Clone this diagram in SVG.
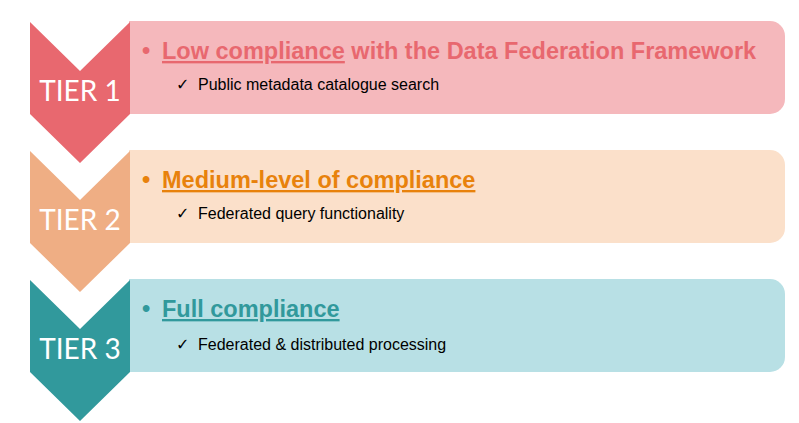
<svg xmlns="http://www.w3.org/2000/svg" width="799" height="423" viewBox="0 0 799 423">
<style>
.tier{font-family:"Lato","Open Sans",sans-serif;font-size:28px;fill:#ffffff;text-anchor:middle}
.title{font-family:"Liberation Sans",Arial,sans-serif;font-size:23.5px;font-weight:bold}
.u{text-decoration:underline}
.sub{font-family:"Liberation Sans",Arial,sans-serif;font-size:16px;fill:#000000}
.chk{font-family:"DejaVu Sans",sans-serif;font-size:16px;fill:#000000}
</style>
<rect width="799" height="423" fill="#ffffff"/>
<g id="tier1">
<path d="M129,21 H770 A15,15 0 0 1 785,36 V99 A15,15 0 0 1 770,114 H129 Z" fill="#F5B8BC"/>
<polygon points="30,22 80,71 130,22 130,114 80,163 30,114" fill="#E8686F"/>
<text class="tier" x="80" y="101">TIER 1</text>
<text class="title" x="142" y="59" fill="#E8686F">• <tspan class="u" x="162">Low compliance</tspan> with the Data Federation Framework</text>
<text class="chk" x="176" y="90">✓</text>
<text class="sub" x="198" y="90">Public metadata catalogue search</text>
</g>
<g id="tier2">
<path d="M129,150 H770 A15,15 0 0 1 785,165 V228 A15,15 0 0 1 770,243 H129 Z" fill="#FBE0CA"/>
<polygon points="30,151 80,200 130,151 130,243 80,292 30,243" fill="#EFAE84"/>
<text class="tier" x="80" y="230">TIER 2</text>
<text class="title" x="142" y="188" fill="#E8820C">• <tspan class="u" x="162">Medium-level of compliance</tspan></text>
<text class="chk" x="176" y="219">✓</text>
<text class="sub" x="198" y="219">Federated query functionality</text>
</g>
<g id="tier3">
<path d="M129,279 H770 A15,15 0 0 1 785,294 V357 A15,15 0 0 1 770,372 H129 Z" fill="#B8E0E5"/>
<polygon points="30,280 80,329 130,280 130,372 80,421 30,372" fill="#31999C"/>
<text class="tier" x="80" y="359">TIER 3</text>
<text class="title" x="142" y="317" fill="#31999C">• <tspan class="u" x="162">Full compliance</tspan></text>
<text class="chk" x="176" y="350">✓</text>
<text class="sub" x="198" y="350">Federated &amp; distributed processing</text>
</g>
<g id="connectors"/>
</svg>
